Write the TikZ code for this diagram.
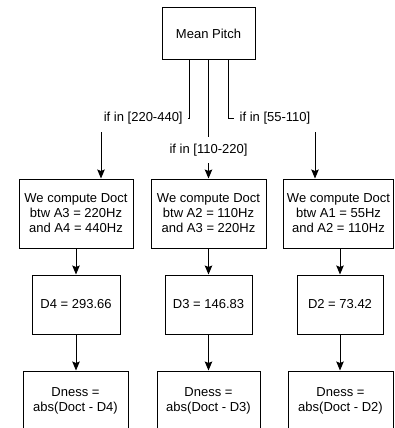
\documentclass[tikz,border=0pt]{standalone}
\usepackage{fontspec}
\setmainfont{Liberation Sans}
\usetikzlibrary{arrows.meta}
\newlength{\du}
\setlength{\du}{1pt}
\definecolor{dialinecolor}{rgb}{0.000000, 0.000000, 0.000000}
\tikzset{
  pitchbox/.style={draw=dialinecolor, fill=white, line width=1.000000\du, inner sep=0pt, align=center,
    font=\fontsize{13}{15}\selectfont},
  link/.style={draw=dialinecolor, line width=1.000000\du, -{Stealth[length=9pt,width=7.5pt,inset=1.5pt]}},
  rangelabel/.style={fill=white, inner sep=0pt, inner xsep=5.5\du, minimum height=26.000000\du,
    font=\fontsize{13}{15}\selectfont, text=dialinecolor}
}
\begin{document}
\begin{tikzpicture}
\pgftransformxscale{1.000000}
\pgftransformyscale{-1.000000}
\useasboundingbox (0.000000\du,0.000000\du) rectangle (394.000000\du,428.000000\du);
\clip (0.000000\du,0.000000\du) rectangle (394.000000\du,428.000000\du);
% setfont left to latex
\node[pitchbox, minimum width=93.000000\du, minimum height=52.000000\du] (mean) at (208.500000\du,34.000000\du){Mean Pitch};
% first row
\node[pitchbox, minimum width=114.000000\du, minimum height=69.000000\du] (doctA) at (76.000000\du,213.500000\du){We compute Doct\\btw A3 = 220Hz\\and A4 = 440Hz};
\node[pitchbox, minimum width=115.000000\du, minimum height=69.000000\du] (doctB) at (208.500000\du,213.500000\du){We compute Doct\\btw A2 = 110Hz\\and A3 = 220Hz};
\node[pitchbox, minimum width=110.000000\du, minimum height=69.000000\du] (doctC) at (338.500000\du,213.500000\du){We compute Doct\\btw A1 = 55Hz\\and A2 = 110Hz};
% second row
\node[pitchbox, minimum width=88.000000\du, minimum height=59.000000\du] (dA) at (76.000000\du,304.500000\du){D4 = 293.66};
\node[pitchbox, minimum width=87.000000\du, minimum height=59.000000\du] (dB) at (208.500000\du,304.500000\du){D3 = 146.83};
\node[pitchbox, minimum width=86.000000\du, minimum height=59.000000\du] (dC) at (340.000000\du,304.500000\du){D2 = 73.42};
% third row
\node[pitchbox, minimum width=105.000000\du, minimum height=60.000000\du] (dnessA) at (75.500000\du,401.000000\du){Dness =\\abs(Doct - D4)};
\node[pitchbox, minimum width=103.000000\du, minimum height=60.000000\du] (dnessB) at (208.500000\du,401.000000\du){Dness =\\abs(Doct - D3)};
\node[pitchbox, minimum width=105.000000\du, minimum height=60.000000\du] (dnessC) at (340.500000\du,401.000000\du){Dness =\\abs(Doct - D2)};
% was here!!!
\draw[link] ([xshift=-19.500000\du]mean.south) -- ++(0\du,58.000000\du) -| node[rangelabel, pos=0.26] (lblA) {if in [220-440]} ([xshift=25.000000\du]doctA.north);
\draw[link] (mean.south) -- node[rangelabel, pos=0.756] (lblB) {if in [110-220]} (doctB.north);
\draw[link] ([xshift=19.500000\du]mean.south) -- ++(0\du,58.000000\du) -| node[rangelabel, pos=0.27] (lblC) {if in [55-110]} ([xshift=-23.500000\du]doctC.north);
\draw[link] (doctA) -- (dA);
\draw[link] (doctB) -- (dB);
\draw[link] (doctC.south -| dC.north) -- (dC.north);
\draw[link] (dA) -- (dA |- dnessA.north);
\draw[link] (dB) -- (dnessB);
\draw[link] (dC) -- (dC |- dnessC.north);
\end{tikzpicture}
\end{document}
